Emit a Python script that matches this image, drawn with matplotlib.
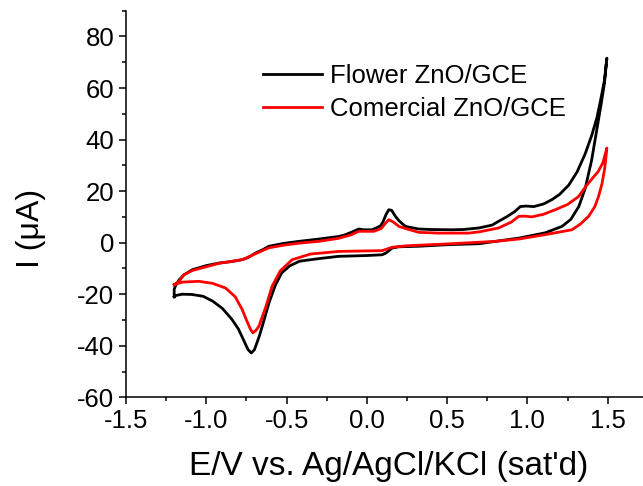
import matplotlib
matplotlib.use('Agg')
import matplotlib.pyplot as plt
from matplotlib.ticker import MultipleLocator
import numpy as np

plt.rcParams['font.family'] = ['Liberation Sans', 'DejaVu Sans']
plt.rcParams['axes.unicode_minus'] = False

# Flower ZnO/GCE - closed CV loop (lower branch to 1.5 V, then back along upper branch)
flower_E = [-1.20, -1.19, -1.15, -1.09, -1.02, -0.96, -0.90, -0.84, -0.80, -0.77,
            -0.74, -0.72, -0.70, -0.67, -0.64, -0.61, -0.57, -0.53, -0.48, -0.42,
            -0.30, -0.175, 0.0, 0.095, 0.12, 0.157, 0.20, 0.32, 0.50, 0.70,
            0.80, 0.95, 1.11, 1.215, 1.27, 1.32, 1.36, 1.40, 1.43, 1.46,
            1.48, 1.495,
            1.48, 1.455, 1.433, 1.40, 1.36, 1.31, 1.257, 1.20, 1.153, 1.10,
            1.04, 0.99, 0.956, 0.92, 0.87, 0.821, 0.78, 0.697, 0.60, 0.53,
            0.40, 0.323, 0.24, 0.20, 0.178, 0.155, 0.137, 0.12, 0.10, 0.085,
            0.033, -0.02, -0.05, -0.09, -0.133, -0.175, -0.30, -0.423, -0.52, -0.61,
            -0.65, -0.693, -0.74, -0.776, -0.85, -0.92, -1.00, -1.087, -1.14, -1.17,
            -1.19, -1.20, -1.20]
flower_I = [-21.0, -20.5, -20.0, -20.1, -20.8, -22.7, -25.5, -29.8, -33.5, -37.5,
            -41.5, -42.8, -41.5, -36.3, -30.0, -23.4, -16.5, -11.7, -9.0, -7.2,
            -6.2, -5.3, -5.0, -4.7, -4.0, -2.1, -1.6, -1.4, -0.8, -0.4,
            0.5, 1.8, 3.8, 6.3, 9.0, 14.0, 21.0, 32.0, 43.0, 54.0,
            62.0, 71.6,
            63.0, 55.0, 48.5, 41.5, 34.5, 27.5, 22.3, 18.7, 16.7, 15.0,
            14.0, 14.2, 14.0, 12.0, 10.0, 8.3, 6.8, 5.7, 5.1, 5.0,
            5.1, 5.3, 6.3, 8.5, 10.2, 12.5, 12.8, 11.0, 8.0, 6.5,
            5.0, 5.0, 5.3, 4.2, 3.1, 2.4, 1.4, 0.5, -0.3, -1.4,
            -2.8, -4.0, -5.8, -6.6, -7.4, -7.9, -8.9, -10.5, -12.5, -14.5,
            -16.5, -18.0, -21.0]

# Comercial ZnO/GCE
comercial_E = [-1.20, -1.15, -1.046, -0.96, -0.88, -0.82, -0.776, -0.75, -0.724, -0.71,
               -0.69, -0.672, -0.63, -0.59, -0.54, -0.465, -0.35, -0.175, 0.0, 0.095,
               0.157, 0.25, 0.50, 0.80, 0.946, 1.11, 1.277, 1.33, 1.381, 1.42,
               1.443, 1.465, 1.482, 1.495,
               1.47, 1.44, 1.412, 1.36, 1.319, 1.25, 1.174, 1.10, 1.028, 0.98,
               0.946, 0.90, 0.821, 0.70, 0.634, 0.45, 0.323, 0.24, 0.20, 0.165,
               0.137, 0.115, 0.09, 0.043, -0.05, -0.10, -0.175, -0.30, -0.423, -0.52,
               -0.61, -0.693, -0.776, -0.92, -1.087, -1.14, -1.17, -1.20]
comercial_I = [-16.3, -15.3, -15.0, -15.8, -17.6, -21.0, -26.0, -30.0, -33.7, -35.0,
               -34.0, -32.4, -25.0, -16.9, -11.0, -6.6, -4.4, -3.4, -3.2, -3.1,
               -1.8, -1.2, -0.5, 0.5, 1.4, 3.1, 5.0, 7.2, 10.2, 14.0,
               17.9, 23.0, 29.0, 36.7,
               31.0, 27.5, 25.5, 21.5, 17.9, 14.8, 12.8, 11.0, 10.0, 10.3,
               10.2, 8.0, 5.7, 4.2, 3.7, 3.7, 4.0, 5.5, 6.3, 8.0,
               8.9, 7.5, 5.5, 4.4, 4.4, 3.0, 1.7, 0.5, -0.2, -1.0,
               -2.0, -4.3, -6.6, -8.0, -10.8, -12.5, -15.0, -16.3]

fig = plt.figure(figsize=(6.43, 4.86), dpi=100)
ax = fig.add_axes([0.196, 0.1825, 0.804, 0.7955])

ax.plot(flower_E, flower_I, color='black', lw=2.0, label='Flower ZnO/GCE')
ax.plot(comercial_E, comercial_I, color='red', lw=2.0, label='Comercial ZnO/GCE')

ax.set_xlim(-1.5, 1.72)
ax.set_ylim(-60, 90)
ax.xaxis.set_minor_locator(MultipleLocator(0.25))
ax.yaxis.set_minor_locator(MultipleLocator(10))
ax.set_xticks(np.arange(-1.5, 1.51, 0.5))
ax.set_yticks(np.arange(-60, 81, 20))
ax.xaxis.set_major_formatter(matplotlib.ticker.FormatStrFormatter('%.1f'))

for s in ['top', 'right']:
    ax.spines[s].set_visible(False)
for s in ['left', 'bottom']:
    ax.spines[s].set_linewidth(1.1)
ax.tick_params(which='major', direction='out', length=5, width=1.1, labelsize=18.5)
ax.tick_params(which='minor', direction='out', length=3, width=1.1)

ax.set_xlabel("E/V vs. Ag/AgCl/KCl (sat'd)", fontsize=24)
ax.set_ylabel("I (μA)", fontsize=23)
ax.xaxis.set_label_coords(0.508, -0.14)
ax.yaxis.set_label_coords(-0.155, 0.437)

ax.legend(loc='upper left', bbox_to_anchor=(0.265, 0.862), frameon=False,
          fontsize=18.5, handlelength=2.3, handletextpad=0.3, labelspacing=0.35,
          borderpad=0, borderaxespad=0)

fig.savefig('out.png', dpi=100)
